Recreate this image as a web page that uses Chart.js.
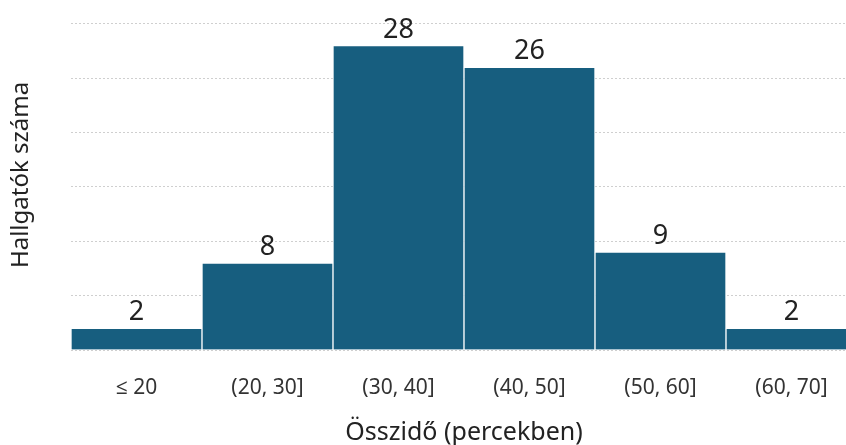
<!DOCTYPE html>
<html>
<head>
<meta charset="utf-8">
<script src="https://cdn.jsdelivr.net/npm/chart.js@4/dist/chart.umd.min.js"></script>
<style>
  html, body { margin: 0; padding: 0; background: #fff; overflow: hidden; }
  #wrap { width: 857px; height: 445px; }
</style>
</head>
<body>
<div id="wrap"><canvas id="c"></canvas></div>
<script>
// Histogram of total time spent (minutes)
const categories = ['≤ 20', '(20, 30]', '(30, 40]', '(40, 50]', '(50, 60]', '(60, 70]'];
const counts = [2, 8, 28, 26, 9, 2];
const gridValues = [0, 5, 10, 15, 20, 25, 30];

const FONT = "'Noto Sans', 'Open Sans', sans-serif";
const BAR_COLOR = '#175e7f';

// Writes each bar's count above it
const valueLabels = {
  id: 'valueLabels',
  afterDatasetsDraw(chart) {
    const { ctx } = chart;
    const meta = chart.getDatasetMeta(0);
    ctx.save();
    ctx.font = '27px ' + FONT;
    ctx.fillStyle = '#222';
    ctx.textAlign = 'center';
    ctx.textBaseline = 'alphabetic';
    meta.data.forEach((bar, i) => {
      const y = chart.scales.y.getPixelForValue(counts[i]);
      ctx.fillText(String(counts[i]), bar.x, y - 8);
    });
    ctx.restore();
  }
};

new Chart(document.getElementById('c'), {
  type: 'bar',
  data: {
    labels: categories,
    datasets: [{
      data: counts,
      backgroundColor: BAR_COLOR,
      borderColor: 'rgba(255,255,255,0.85)',
      borderWidth: 1,
      categoryPercentage: 1.0,
      barPercentage: 1.0
    }]
  },
  options: {
    responsive: true,
    maintainAspectRatio: false,
    animation: false,
    layout: { padding: 0 },
    plugins: {
      legend: { display: false },
      tooltip: { enabled: false }
    },
    scales: {
      x: {
        grid: { display: false },
        border: { display: false },
        ticks: {
          color: '#333',
          font: { family: FONT, size: 21 },
          padding: 17,
          maxRotation: 0
        },
        title: {
          display: true,
          text: 'Összidő (percekben)',
          color: '#222',
          font: { family: FONT, size: 25, lineHeight: 1.0 },
          padding: { top: 0, bottom: 0 }
        },
        afterFit(scale) { scale.height = 95; }
      },
      y: {
        min: 0,
        max: 32.2,
        border: { display: false, dash: [2, 2] },
        afterBuildTicks(scale) {
          scale.ticks = gridValues.map(v => ({ value: v }));
        },
        grid: {
          color: '#cfcfcf',
          lineWidth: 1,
          drawTicks: false
        },
        ticks: { display: false },
        title: {
          display: true,
          text: 'Hallgatók száma',
          color: '#222',
          font: { family: FONT, size: 24, lineHeight: 1.2 },
          padding: { top: 7, bottom: 0 }
        },
        afterFit(scale) { scale.width = 71; }
      }
    }
  },
  plugins: [valueLabels]
});
</script>
</body>
</html>
